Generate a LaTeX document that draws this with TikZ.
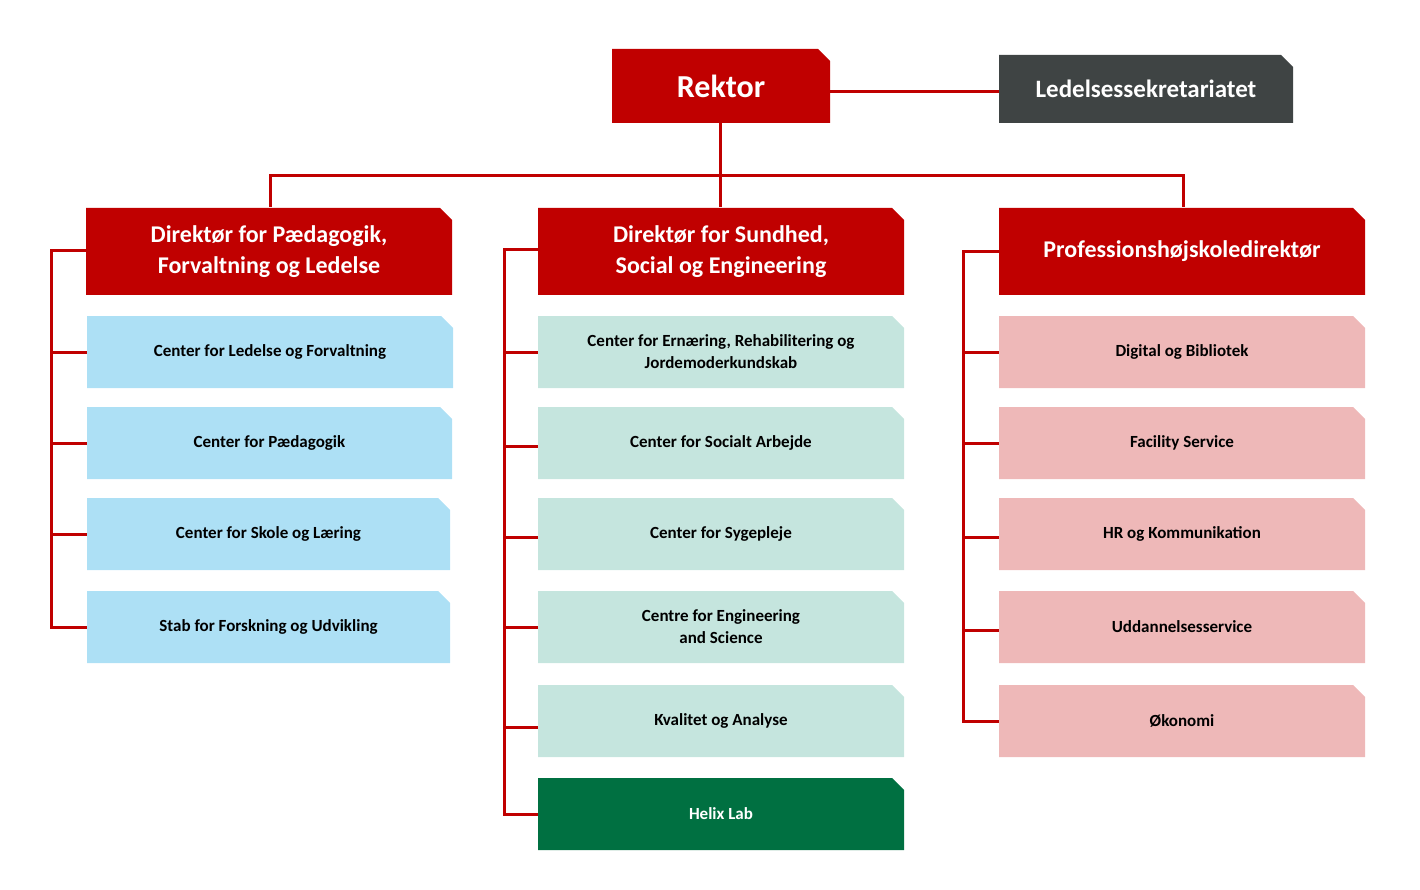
\documentclass[tikz,border=0pt]{standalone}
\usepackage{fontspec}
\setmainfont{Carlito}
\definecolor{rd}{HTML}{C00000}
\definecolor{dg}{HTML}{3F4444}
\definecolor{lb}{HTML}{ADE0F5}
\definecolor{mt}{HTML}{C5E5DE}
\definecolor{pk}{HTML}{EEB8B8}
\definecolor{gr}{HTML}{007041}
\tikzset{x=1pt,y=-1pt,
 con/.style={rd,line width=3pt},
 lbl/.style={align=center,font=\bfseries,inner sep=0pt}}
% name x1 y1 x2 y2 fill textcolor size text
\newcommand\cbox[9]{%
 \fill[#6] (#2,#3) -- ({#4-12},#3) -- (#4,{#3+12}) -- (#4,#5) -- (#2,#5) -- cycle;
 \node[lbl,text=#7,font=\bfseries\fontsize{#8}{\dimexpr#8pt*13/10\relax}\selectfont] (#1) at ({(#2+#4)/2},{(#3+#5)/2}) {#9};
 \coordinate (#1-w) at (#2,{(#3+#5)/2});}
\begin{document}
\begin{tikzpicture}
\useasboundingbox (0,0) rectangle (1420,890);
\draw[con] (720,92) -- (999,92);
\draw[con] (720,123) -- (720,207);
\draw[con] (270,207) -- (270,176) -- (1183,176) -- (1183,207);
\draw[con] (87,251) -- (51,251) -- (51,627) -- (87,627);
\foreach \y in {352,443,534} \draw[con] (51,\y) -- (87,\y);
\draw[con] (538,250) -- (504,250) -- (504,814) -- (538,814);
\foreach \y in {352,446,537,627,727} \draw[con] (504,\y) -- (538,\y);
\draw[con] (999,252) -- (963,252) -- (963,721) -- (999,721);
\foreach \y in {352,443,537,630} \draw[con] (963,\y) -- (999,\y);

\cbox{rek}{612}{49}{830}{123}{rd}{white}{32}{Rektor}
\cbox{led}{999}{55}{1293}{123}{dg}{white}{25}{Ledelsessekretariatet}
\cbox{d1}{86}{208}{452}{295}{rd}{white}{24}{Direktør for Pædagogik,\\Forvaltning og Ledelse}
\cbox{d2}{538}{208}{904}{295}{rd}{white}{24}{Direktør for Sundhed,\\Social og Engineering}
\cbox{d3}{999}{208}{1365}{295}{rd}{white}{24}{Professionshøjskoledirektør}

\cbox{a1}{87}{316}{453}{388}{lb}{black}{17}{Center for Ledelse og Forvaltning}
\cbox{a2}{87}{407}{452}{479}{lb}{black}{17}{Center for Pædagogik}
\cbox{a3}{87}{498}{450}{570}{lb}{black}{17}{Center for Skole og Læring}
\cbox{a4}{87}{591}{450}{663}{lb}{black}{17}{Stab for Forskning og Udvikling}

\cbox{b1}{538}{316}{904}{388}{mt}{black}{17}{Center for Ernæring, Rehabilitering og\\Jordemoderkundskab}
\cbox{b2}{538}{407}{904}{479}{mt}{black}{17}{Center for Socialt Arbejde}
\cbox{b3}{538}{498}{904}{570}{mt}{black}{17}{Center for Sygepleje}
\cbox{b4}{538}{591}{904}{663}{mt}{black}{17}{Centre for Engineering\\and Science}
\cbox{b5}{538}{685}{904}{757}{mt}{black}{17}{Kvalitet og Analyse}
\cbox{b6}{538}{778}{904}{850}{gr}{white}{17}{Helix Lab}

\cbox{c1}{999}{316}{1365}{388}{pk}{black}{17}{Digital og Bibliotek}
\cbox{c2}{999}{407}{1365}{479}{pk}{black}{17}{Facility Service}
\cbox{c3}{999}{498}{1365}{570}{pk}{black}{17}{HR og Kommunikation}
\cbox{c4}{999}{591}{1365}{663}{pk}{black}{17}{Uddannelsesservice}
\cbox{c5}{999}{685}{1365}{757}{pk}{black}{17}{Økonomi}
\end{tikzpicture}
\end{document}
